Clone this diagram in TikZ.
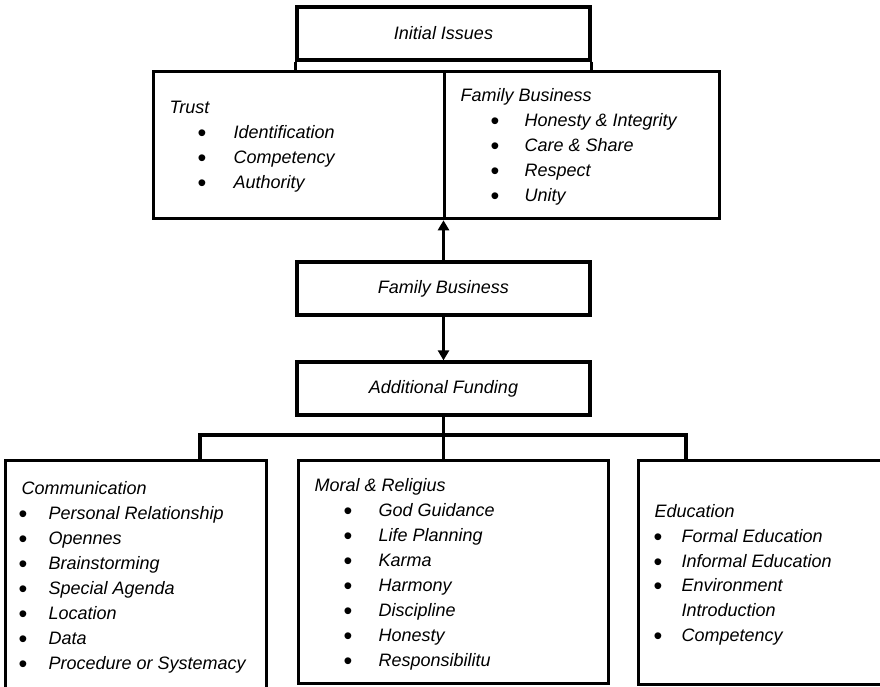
\documentclass[tikz,border=0pt]{standalone}
\usepackage{fontspec}
\setmainfont{Liberation Sans}
\usetikzlibrary{arrows.meta}
\tikzset{
  frame/.style={draw,line width=3.3pt,inner sep=0pt},
  head/.style={anchor=base west,inner sep=0pt},
  bul/.style={anchor=base,inner sep=0pt,font=\fontsize{25}{25}\selectfont},
  item/.style={anchor=base west,inner sep=0pt},
  link/.style={line width=3.3pt,-{Triangle[length=10pt,width=11pt]}}
}
\begin{document}
\begin{tikzpicture}[x=1pt,y=-1pt,line width=3.3pt,every node/.style={font=\fontsize{18}{22}\selectfont\itshape}]
\useasboundingbox (0,0) rectangle (880,686);
% initial issues on top of the split box
\node[frame,minimum width=293pt,minimum height=53pt] (init) at (443.5,33.5) {Initial Issues};
\node[frame,minimum width=291pt,minimum height=147pt,anchor=north west] (trust) at (152,70) {};
\node[frame,minimum width=275pt,minimum height=147pt,anchor=north west] (fam) at (443,70) {};
\draw (init.south west) -- (init.south west |- trust.north);
\draw (init.south east) -- (init.south east |- fam.north);
% trust list
\node[head] (trustH) at (168,113) {Trust};
\foreach \t [count=\i] in {Identification,Competency,Authority}{
  \node[bul] (trustB\i) at (202,{116+25*\i}) {\textbullet};
  \node[item] (trust\i) at (232,{113+25*\i}) {\t};
}
% family business list
\node[head] (famH) at (459,101) {Family Business};
\foreach \t [count=\i] in {Honesty \& Integrity,Care \& Share,Respect,Unity}{
  \node[bul] (famB\i) at (495,{104+25*\i}) {\textbullet};
  \node[item] (fam\i) at (523,{101+25*\i}) {\t};
}
% middle chain
\node[frame,minimum width=293pt,minimum height=53pt] (fb) at (443.5,288.5) {Family Business};
\node[frame,minimum width=293pt,minimum height=53pt] (af) at (443.5,388.5) {Additional Funding};
\draw[link] (fb.north) -- (fb.north |- trust.south);
\draw[link] (fb.south) -- (af.north);
% bottom boxes
\node[frame,minimum width=261pt,minimum height=231pt,anchor=north west] (comm) at (4,459) {};
\node[frame,minimum width=310pt,minimum height=223pt,anchor=north west] (moral) at (297,459) {};
\node[frame,minimum width=243pt,minimum height=224pt,anchor=north west] (edu) at (637,459) {};
\coordinate (busL) at (200,435);
\coordinate (busR) at (686,435);
\draw (busL |- comm.north) -- (busL) -- (busR) -- (busR |- edu.north);
\draw (af.south) -- (af.south |- moral.north);
% communication
\node[head] (commH) at (20,494) {Communication};
\foreach \t [count=\i] in {Personal Relationship,Opennes,Brainstorming,Special Agenda,Location,Data,Procedure or Systemacy}{
  \node[bul] (commB\i) at (23,{497+25*\i}) {\textbullet};
  \node[item] (comm\i) at (47,{494+25*\i}) {\t};
}
% moral
\node[head] (moralH) at (313,491) {Moral \& Religius};
\foreach \t [count=\i] in {God Guidance,Life Planning,Karma,Harmony,Discipline,Honesty,Responsibilitu}{
  \node[bul] (moralB\i) at (348,{494+25*\i}) {\textbullet};
  \node[item] (moral\i) at (377,{491+25*\i}) {\t};
}
% education
\node[head] (eduH) at (653,517) {Education};
\node[bul] (eduB1) at (658,545) {\textbullet};
\node[item] (edu1) at (680,542) {Formal Education};
\node[bul] (eduB2) at (658,570) {\textbullet};
\node[item] (edu2) at (680,567) {Informal Education};
\node[bul] (eduB3) at (658,594) {\textbullet};
\node[item] (edu3) at (680,591) {Environment};
\node[item] (edu3b) at (680,616) {Introduction};
\node[bul] (eduB4) at (658,644) {\textbullet};
\node[item] (edu4) at (680,641) {Competency};
\end{tikzpicture}
\end{document}
